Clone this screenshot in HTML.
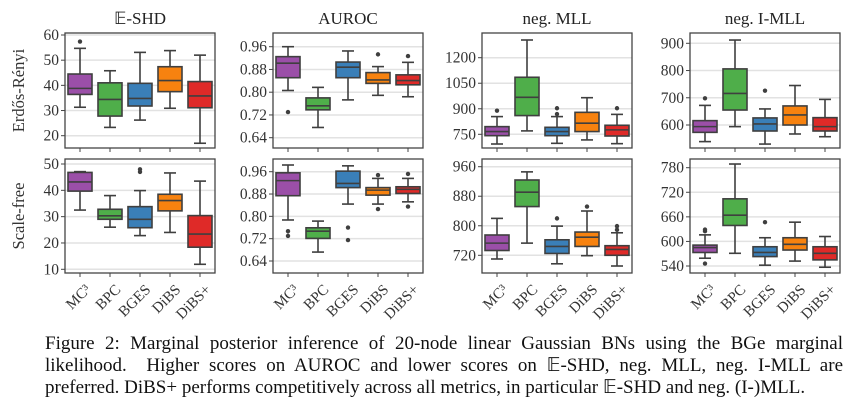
<!DOCTYPE html>
<html><head><meta charset="utf-8">
<style>
body{margin:0;background:#fff;width:857px;height:407px;overflow:hidden;font-family:"Liberation Serif",serif;}
svg{position:absolute;left:0;top:0}
#caption{position:absolute;left:45px;top:333px;width:798px;font-size:19px;line-height:22px;color:#111;}
#caption div{text-align:justify;text-align-last:justify;white-space:nowrap;}
#caption div.last{text-align-last:left;}
</style></head><body>
<svg id="chart" width="857" height="330"></svg>
<div id="caption">
<div>Figure 2: Marginal posterior inference of 20-node linear Gaussian BNs using the BGe marginal</div>
<div>likelihood. &nbsp;Higher scores on AUROC and lower scores on 𝔼-SHD, neg. MLL, neg. I-MLL are</div>
<div class="last">preferred. DiBS+ performs competitively across all metrics, in particular 𝔼-SHD and neg. (I-)MLL.</div>
</div>
<script>
const methods=["MC³","BPC","BGES","DiBS","DiBS+"];
const colors=["#9b4fa8","#4fae4a","#3a7fb8","#f7820f","#df2a28"];
const titles=["𝔼-SHD","AUROC","neg.  MLL","neg.  I-MLL"];
const rowLabels=["Erdős-Rényi","Scale-free"];
// [low, q1, median, q3, high]
const shdER=[[31.3,36.4,38.8,44.5,54.7],[23.3,27.8,34.4,41,45.8],[26.2,31.8,34.8,40.8,53.1],[30.9,37.5,41.9,47.4,53.8],[17,31.1,35.8,41.5,52]];
const shdEROut=[[57.4],[],[],[],[]];
const aucER=[[0.806,0.851,0.902,0.925,0.96],[0.676,0.738,0.752,0.78,0.817],[0.773,0.851,0.888,0.906,0.945],[0.789,0.831,0.843,0.869,0.89],[0.784,0.826,0.841,0.861,0.905]];
const aucEROut=[[0.73],[],[],[0.933],[0.927]];
const mllER=[[693,742,766,795,854],[770,860,967,1085,1304],[697,742,766,791,854],[717,766,815,879,965],[695,740,776,803,867]];
const mllEROut=[[889],[],[869,903],[],[903]];
const imllER=[[539,573,594,616,672],[594,655,716,806,912],[530,578,604,626,659],[567,600,637,670,745],[557,578,594,627,694]];
const imllEROut=[[698],[],[726],[],[]];
const shdSF=[[32.5,39.7,43.2,46.8,47.1],[26,29,30.3,32.8,38],[22.8,25.8,29,33.8,39.9],[24,32.2,36.1,38.5,46.6],[11.9,18.4,23.4,30.4,43.5]];
const shdSFOut=[[],[],[47,48],[],[]];
const aucSF=[[0.787,0.874,0.928,0.956,0.984],[0.672,0.721,0.747,0.759,0.783],[0.844,0.903,0.918,0.962,0.981],[0.844,0.876,0.894,0.903,0.936],[0.852,0.882,0.897,0.906,0.936]];
const aucSFOut=[[0.73,0.747],[],[0.715,0.76],[0.826,0.948],[0.835,0.952]];
const mllSF=[[710,733,753,775,820],[753,852,891,924,946],[697,725,744,762,799],[719,744,769,783,840],[691,720,736,746,781]];
const mllSFOut=[[],[],[820],[852],[789,799]];
const imllSF=[[559,573,585,591,616],[571,639,664,704,789],[542,563,573,587,609],[552,579,593,609,647],[537,555,571,587,612]];
const imllSFOut=[[546,625,629],[],[647],[],[]];
const ticksSHDER=[20,30,40,50,60],ticksAUC=[0.64,0.72,0.80,0.88,0.96],ticksMLLER=[750,900,1050,1200],ticksIMLLER=[600,700,800,900];
const ticksSHDSF=[10,20,30,40,50],ticksMLLSF=[720,800,880,960],ticksIMLLSF=[540,600,660,720,780];

const NS="http://www.w3.org/2000/svg";
const svg=document.getElementById("chart");
function mk(t,a,p){const e=document.createElementNS(NS,t);for(const k in a)e.setAttribute(k,a[k]);(p||svg).appendChild(e);return e;}
const panels=[
 {d:shdER,o:shdEROut,t:ticksSHDER,x:65,y:33,h:115,r:[60,35,20,135.7],fmt:v=>v},
 {d:aucER,o:aucEROut,t:ticksAUC,x:273,y:33,h:115,r:[0.96,46.7,0.64,137.7],fmt:v=>v.toFixed(2)},
 {d:mllER,o:mllEROut,t:ticksMLLER,x:482,y:33,h:115,r:[1200,57.7,750,134.3],fmt:v=>v},
 {d:imllER,o:imllEROut,t:ticksIMLLER,x:690,y:33,h:115,r:[900,43.3,600,125],fmt:v=>v},
 {d:shdSF,o:shdSFOut,t:ticksSHDSF,x:65,y:159,h:114,r:[50,164,10,269.3],fmt:v=>v},
 {d:aucSF,o:aucSFOut,t:ticksAUC,x:273,y:159,h:114,r:[0.96,171.7,0.64,261],fmt:v=>v.toFixed(2)},
 {d:mllSF,o:mllSFOut,t:ticksMLLSF,x:482,y:159,h:114,r:[960,166.7,720,255.3],fmt:v=>v},
 {d:imllSF,o:imllSFOut,t:ticksIMLLSF,x:690,y:159,h:114,r:[780,167.7,540,266],fmt:v=>v}
];
const W=150,edge="#3f3f3f";
panels.forEach((p,pi)=>{
  const g=mk("g",{});
  
  
  const ys=v=>p.r[1]+(v-p.r[0])*(p.r[3]-p.r[1])/(p.r[2]-p.r[0]);
  const xs=i=>p.x+15+i*30;
  p.t.forEach(v=>{
    const y=ys(v);
    const gl=mk("line",{x1:p.x,x2:p.x+W,y1:y,y2:y,stroke:"#e2e2e2","stroke-width":1.5},g);
    
    mk("line",{x1:p.x-4,x2:p.x,y1:y,y2:y,stroke:"#444","stroke-width":1},g);
    const tl=mk("text",{x:p.x-6,y:y+5,"text-anchor":"end","font-size":15.5,fill:"#333"},g);
    tl.textContent=p.fmt(v);
    
  });
  p.d.forEach((b,i)=>{
    const cx=xs(i),bw=24;
    const bg=mk("g",{},g);
    
    
    mk("line",{x1:cx,x2:cx,y1:ys(b[0]),y2:ys(b[1]),stroke:edge,"stroke-width":1.6},bg);
    mk("line",{x1:cx,x2:cx,y1:ys(b[3]),y2:ys(b[4]),stroke:edge,"stroke-width":1.6},bg);
    mk("line",{x1:cx-6,x2:cx+6,y1:ys(b[0]),y2:ys(b[0]),stroke:edge,"stroke-width":1.6},bg);
    mk("line",{x1:cx-6,x2:cx+6,y1:ys(b[4]),y2:ys(b[4]),stroke:edge,"stroke-width":1.6},bg);
    mk("rect",{x:cx-bw/2,y:ys(b[3]),width:bw,height:Math.max(1,ys(b[1])-ys(b[3])),fill:colors[i],stroke:edge,"stroke-width":1.6},bg);
    mk("line",{x1:cx-bw/2,x2:cx+bw/2,y1:ys(b[2]),y2:ys(b[2]),stroke:edge,"stroke-width":1.6},bg);
    p.o[i].forEach(v=>{const c=mk("circle",{cx:cx,cy:ys(v),r:2.2,fill:edge},bg);
      });
    mk("line",{x1:cx,x2:cx,y1:p.y+p.h,y2:p.y+p.h+4,stroke:"#444","stroke-width":1},g);
    if(pi>=4){
      const lx=cx+4,ly=p.y+p.h+10;
      const t=mk("text",{x:lx,y:ly,"text-anchor":"end","font-size":15,fill:"#333",transform:`rotate(-45 ${lx} ${ly})`,dy:"0.7em"},g);
      t.textContent=methods[i];
      
    }
  });
  const fr=mk("rect",{x:p.x,y:p.y,width:W,height:p.h,fill:"none",stroke:"#444","stroke-width":1.3},g);
  
  if(pi<4){
    const t=mk("text",{x:p.x+W/2,y:24,"text-anchor":"middle","font-size":17,fill:"#222"},g);
    t.textContent=titles[pi];
    
  }
  if(pi%4===0){
    const cy=p.y+p.h/2,lx=24;
    const t=mk("text",{x:lx,y:cy,"text-anchor":"middle","font-size":16.5,fill:"#333",transform:`rotate(-90 ${lx} ${cy})`},g);
    t.textContent=rowLabels[pi/4];
    
  }
});
</script>
</body></html>
